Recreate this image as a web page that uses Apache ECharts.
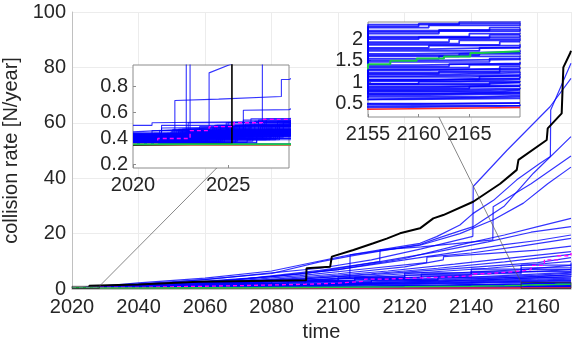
<!DOCTYPE html>
<html>
<head>
<meta charset="utf-8">
<script src="https://cdn.jsdelivr.net/npm/echarts@6/dist/echarts.min.js"></script>
<style>
  html, body { margin: 0; padding: 0; background: #fff; }
  #chart { width: 576px; height: 345px; }
</style>
</head>
<body>
<div id="chart"></div>
<script>
// axis ticks
const mainXTicks = [2020, 2040, 2060, 2080, 2100, 2120, 2140, 2160]
const mainYTicks = [0, 20, 40, 60, 80, 100]
const inset1XTicks = [2020, 2025]
const inset1YTicks = [0.2, 0.4, 0.6, 0.8]
const inset2XTicks = [2155, 2160, 2165]
const inset2YTicks = [0.5, 1, 1.5, 2]

// highlighted curves, [year, rate]
const blackLine = [[2020, 0.35], [2025.2, 0.36], [2025.2, 1.2], [2040, 1.6], [2058, 2.6], [2090.4, 3.2], [2090.5, 7.5],
  [2097.6, 8], [2098.1, 11.7], [2104.6, 14.1], [2110.6, 16.5], [2114.6, 18.2], [2118.6, 20.1], [2124.6, 21.9],
  [2128.6, 25.5], [2131.6, 26.7], [2140.6, 31.5], [2148.7, 38], [2153.7, 43], [2154.2, 46.6], [2162.7, 53.8],
  [2163, 58], [2167.2, 63.4], [2167.7, 80], [2169.7, 85], [2170, 86]]
const magentaLine = [[2020, 0.36], [2021.3, 0.4], [2023, 0.46], [2024, 0.49], [2025.3, 0.52], [2026.8, 0.545],
  [2028.2, 0.56], [2040, 0.8], [2050, 1.0], [2060, 1.2], [2070, 1.45], [2080, 1.7], [2090, 2.1], [2100, 2.8],
  [2108, 3.6], [2115, 4.0], [2125, 4.4], [2133.6, 4.7], [2140, 5.5], [2145, 6], [2150, 6.5], [2155, 7],
  [2158, 8.5], [2162, 10.5], [2166, 12], [2170, 13]]
const greenLine = [[2020, 0.356], [2040, 0.4], [2060, 0.5], [2080, 0.65], [2100, 0.8], [2120, 1.0], [2140, 1.2],
  [2150, 1.32], [2155, 1.42], [2157.2, 1.5], [2159.8, 1.55], [2162.5, 1.6], [2165.1, 1.68], [2166.1, 1.72], [2170, 1.72]]
const redLine = [[2020, 0.35], [2100, 0.37], [2155, 0.41], [2170, 0.41]]

// fastest-growing runs
const upperRuns = [
  [[2020, 0.42], [2022.8, 0.44], [2022.8, 1.1], [2040, 1.9], [2060, 3.4], [2080, 5.8], [2094.5, 7.5], [2110, 10.5],
    [2125, 14.5], [2140.5, 19], [2140.6, 37], [2150.7, 50], [2163.7, 65.8], [2170, 76]],
  [[2020, 0.38], [2023, 0.45], [2023, 1.0], [2040, 2.2], [2060, 3.9], [2080, 6.5], [2094.5, 10.1], [2103.6, 12.3],
    [2112.6, 14.1], [2124.6, 16.5], [2129.6, 18.9], [2136.6, 23.1], [2140.6, 27.3], [2146.7, 32], [2153.7, 39.4],
    [2160.7, 45.4], [2163.8, 47.8], [2163.9, 64.6], [2170, 81.5]],
  [[2020, 0.4], [2024, 0.42], [2024, 0.9], [2050, 2.4], [2080, 5.6], [2094.5, 9.8], [2103.6, 11.9], [2112.6, 13.7],
    [2124.6, 16], [2129.6, 18.2], [2136.6, 21], [2140.6, 22.5], [2150, 30], [2158.7, 41.8], [2170, 55]],
  [[2020, 0.45], [2026.8, 0.5], [2026.8, 1.0], [2060, 2.5], [2090, 5.5], [2112.5, 9.9], [2112.6, 14.1], [2125, 15.2],
    [2136, 16.5], [2146.5, 17.7], [2146.6, 29.7], [2158, 38], [2170, 48]],
  [[2020, 0.4], [2028.2, 0.45], [2060, 1.8], [2090, 3.2], [2103.5, 3.9], [2103.6, 12.3], [2112.6, 13.8],
    [2124.6, 15.8], [2136.6, 20], [2146.7, 25], [2155.7, 31], [2163, 38], [2170, 44]]
]

// middle band runs
const midRuns = [
  [[2020, 0.4], [2022.2, 0.44], [2022.2, 0.69], [2024.5, 0.7], [2027.8, 0.72], [2027.8, 0.85], [2028.2, 0.85], [2050, 2], [2080, 4.5], [2100, 7], [2120, 11], [2136.6, 15.9], [2150, 19.5], [2160, 22.5], [2170, 25.5]],
  [[2020, 0.42], [2025.8, 0.42], [2025.8, 0.615], [2028.2, 0.62], [2040, 1.2], [2070, 3.4], [2094.5, 6.7], [2112.6, 9.9], [2130, 13.5], [2145, 17], [2158, 20.5], [2170, 22.5]],
  [[2020, 0.5], [2021, 0.5], [2021, 0.52], [2028.2, 0.53], [2060, 2.4], [2088.5, 5.5], [2100, 7], [2120, 10.5], [2136.6, 13.5], [2150, 16], [2160, 17.5], [2170, 19.5]],
  [[2020, 0.37], [2023.2, 0.37], [2023.2, 0.45], [2028.2, 0.46], [2040, 1.0], [2060, 2], [2088.5, 4.8], [2110, 7.5], [2126.6, 9.5], [2126.7, 11.5], [2140, 13], [2155, 15.5], [2170, 18.3]],
  [[2020, 0.38], [2024.4, 0.38], [2024.4, 0.5], [2028.2, 0.51], [2050, 1.5], [2080, 3.5], [2100, 5.5], [2120, 8], [2131.6, 10.5], [2131.7, 11.7], [2145, 12.8], [2160, 14], [2170, 15.5]],
  [[2020, 0.4], [2022.6, 0.4], [2022.6, 0.47], [2026.2, 0.48], [2026.2, 0.55], [2028.2, 0.55], [2060, 1.8], [2090, 4], [2115, 6.5], [2135, 9], [2150, 11], [2170, 13.5]],
  [[2020, 0.37], [2021.8, 0.37], [2021.8, 0.44], [2028.2, 0.45], [2055, 1.4], [2085, 3.2], [2110, 5.5], [2130, 7.5], [2150, 9.8], [2170, 12.5]],
  [[2020, 0.41], [2025, 0.41], [2025, 0.49], [2028.2, 0.5], [2050, 1.3], [2088.5, 3.6], [2112, 5.4], [2140, 7.8], [2160, 9.5], [2170, 11.3]],
  [[2020, 0.39], [2023.7, 0.39], [2023.7, 0.43], [2027.1, 0.44], [2027.1, 0.5], [2028.2, 0.5], [2060, 1.5], [2094.5, 3.5], [2120, 5.5], [2145, 7.5], [2170, 10]],
  [[2020, 0.43], [2022.9, 0.43], [2022.9, 0.52], [2028.2, 0.52], [2040, 0.9], [2075, 2.3], [2100, 3.6], [2130, 5.5], [2155, 7], [2170, 8.5]],
  [[2020, 0.36], [2026.5, 0.36], [2026.5, 0.42], [2028.2, 0.42], [2070, 1.7], [2100, 3], [2135, 4.8], [2170, 7]],
  [[2020, 0.44], [2021.5, 0.44], [2021.5, 0.48], [2028.2, 0.49], [2060, 1.3], [2100, 2.7], [2140, 4.3], [2170, 6]],
  [[2020, 0.38], [2024.7, 0.38], [2024.7, 0.41], [2028.2, 0.42], [2080, 1.6], [2120, 2.9], [2150, 4], [2170, 5.2]],
  [[2020, 0.4], [2027.4, 0.4], [2027.4, 0.46], [2028.2, 0.46], [2070, 1.2], [2110, 2.3], [2145, 3.4], [2170, 4.4]],
  [[2020, 0.37], [2023.9, 0.37], [2023.9, 0.4], [2028.2, 0.4], [2090, 1.5], [2130, 2.4], [2160, 3.2], [2170, 3.6]],
  [[2020, 0.42], [2028.2, 0.42], [2080, 1.2], [2130, 2], [2170, 3]]
]

// lower-middle runs, drawn as steps
const stepMidRuns = [
  [[2020, 0.4], [2024.1, 0.44], [2050, 0.7], [2080, 1.2], [2100, 1.6], [2120, 2.0], [2140, 2.3], [2150, 2.45], [2160, 2.55], [2170, 2.7]],
  [[2020, 0.38], [2026.3, 0.46], [2050, 0.8], [2080, 1.4], [2100, 1.9], [2120, 2.4], [2140, 2.8], [2155, 3.0], [2163, 3.2], [2170, 3.4]],
  [[2020, 0.41], [2022.4, 0.47], [2050, 0.9], [2080, 1.6], [2100, 2.2], [2120, 2.8], [2135, 3.2], [2150, 3.6], [2160, 3.9], [2170, 4.1]],
  [[2020, 0.37], [2025.4, 0.45], [2050, 0.95], [2075, 1.6], [2095, 2.3], [2115, 3.0], [2135, 3.6], [2150, 4.1], [2160, 4.5], [2170, 4.8]],
  [[2020, 0.42], [2023.5, 0.49], [2045, 0.9], [2070, 1.6], [2090, 2.3], [2110, 3.1], [2130, 3.9], [2145, 4.5], [2160, 5.1], [2170, 5.5]],
  [[2020, 0.39], [2027.5, 0.5], [2045, 1.0], [2070, 1.8], [2090, 2.6], [2110, 3.4], [2130, 4.3], [2145, 5.0], [2160, 5.7], [2170, 6.2]],
  [[2020, 0.36], [2021.7, 0.43], [2040, 0.9], [2065, 1.8], [2085, 2.6], [2105, 3.6], [2125, 4.6], [2140, 5.5], [2155, 6.3], [2170, 7.0]],
  [[2020, 0.44], [2024.9, 0.52], [2040, 1.0], [2060, 1.8], [2080, 2.7], [2100, 3.8], [2120, 5.0], [2140, 6.0], [2155, 7.0], [2170, 7.8]],
  [[2020, 0.4], [2026.8, 0.5], [2045, 1.2], [2065, 2.1], [2085, 3.0], [2105, 4.2], [2125, 5.4], [2140, 6.4], [2155, 7.6], [2170, 8.8]],
  [[2020, 0.38], [2023.9, 0.46], [2040, 1.1], [2060, 2.0], [2080, 3.0], [2100, 4.4], [2120, 5.8], [2140, 7.2], [2155, 8.6], [2170, 9.6]]
]

// slow runs, drawn as steps
const lowRuns = [
  [[2020, 0.36], [2060, 0.38], [2110, 0.41], [2155, 0.45], [2170, 0.46]],
  [[2020, 0.37], [2026, 0.39], [2080, 0.42], [2130, 0.46], [2170, 0.48]],
  [[2020, 0.38], [2023.4, 0.4], [2070, 0.44], [2120, 0.49], [2160, 0.52], [2170, 0.53]],
  [[2020, 0.37], [2022.7, 0.42], [2070, 0.46], [2120, 0.5], [2155, 0.5], [2163, 0.51], [2170, 0.52]],
  [[2020, 0.4], [2021.2, 0.42], [2050, 0.47], [2100, 0.54], [2140, 0.6], [2158, 0.62], [2170, 0.63]],
  [[2020, 0.4], [2025.1, 0.45], [2060, 0.52], [2110, 0.6], [2155, 0.64], [2166, 0.66], [2170, 0.67]],
  [[2020, 0.37], [2024.8, 0.44], [2060, 0.5], [2110, 0.58], [2150, 0.66], [2166, 0.69], [2170, 0.69]],
  [[2020, 0.41], [2022, 0.45], [2070, 0.53], [2120, 0.64], [2155, 0.7], [2161, 0.73], [2170, 0.74]],
  [[2020, 0.38], [2021.9, 0.43], [2070, 0.56], [2120, 0.66], [2155, 0.72], [2160, 0.75], [2170, 0.76]],
  [[2020, 0.39], [2027, 0.47], [2060, 0.55], [2110, 0.66], [2150, 0.74], [2163, 0.77], [2170, 0.78]],
  [[2020, 0.42], [2021.5, 0.5], [2070, 0.6], [2120, 0.72], [2155, 0.78], [2168, 0.82], [2170, 0.82]],
  [[2020, 0.42], [2026.7, 0.49], [2080, 0.62], [2130, 0.74], [2155, 0.8], [2164, 0.83], [2170, 0.84]],
  [[2020, 0.36], [2023.8, 0.43], [2080, 0.6], [2130, 0.75], [2155, 0.82], [2159, 0.85], [2170, 0.87]],
  [[2020, 0.38], [2025.5, 0.42], [2060, 0.55], [2110, 0.72], [2150, 0.85], [2165, 0.9], [2170, 0.91]],
  [[2020, 0.36], [2023.1, 0.44], [2060, 0.56], [2110, 0.76], [2155, 0.88], [2161, 0.91], [2170, 0.92]],
  [[2020, 0.43], [2022.6, 0.47], [2070, 0.62], [2120, 0.8], [2155, 0.9], [2162, 0.93], [2170, 0.95]],
  [[2020, 0.37], [2026.5, 0.46], [2080, 0.66], [2130, 0.86], [2155, 0.94], [2167, 0.99], [2170, 0.99]],
  [[2020, 0.41], [2024.9, 0.47], [2070, 0.66], [2120, 0.86], [2155, 0.96], [2167, 1.0], [2170, 1.01]],
  [[2020, 0.4], [2024.2, 0.48], [2060, 0.6], [2110, 0.82], [2150, 0.96], [2160, 1.01], [2170, 1.03]],
  [[2020, 0.36], [2021.8, 0.41], [2070, 0.64], [2120, 0.88], [2155, 1.02], [2164, 1.06], [2170, 1.07]],
  [[2020, 0.39], [2027.2, 0.49], [2080, 0.74], [2130, 0.96], [2155, 1.04], [2159, 1.08], [2170, 1.09]],
  [[2020, 0.41], [2027.3, 0.5], [2080, 0.72], [2130, 0.94], [2155, 1.06], [2162, 1.1], [2170, 1.12]],
  [[2020, 0.38], [2023, 0.44], [2060, 0.62], [2110, 0.88], [2150, 1.06], [2166, 1.13], [2170, 1.15]],
  [[2020, 0.37], [2022.3, 0.46], [2060, 0.64], [2110, 0.92], [2155, 1.12], [2165, 1.16], [2170, 1.17]],
  [[2020, 0.44], [2025, 0.52], [2070, 0.7], [2120, 0.96], [2155, 1.14], [2160, 1.17], [2170, 1.2]],
  [[2020, 0.37], [2022.4, 0.45], [2080, 0.78], [2130, 1.02], [2155, 1.18], [2163, 1.22], [2170, 1.24]],
  [[2020, 0.43], [2025.6, 0.5], [2070, 0.76], [2120, 1.0], [2155, 1.2], [2162, 1.25], [2170, 1.26]],
  [[2020, 0.39], [2026.2, 0.5], [2060, 0.66], [2110, 0.98], [2155, 1.23], [2168, 1.29], [2170, 1.3]],
  [[2020, 0.42], [2021, 0.46], [2070, 0.76], [2120, 1.06], [2155, 1.28], [2161, 1.32], [2170, 1.35]],
  [[2020, 0.38], [2021.3, 0.43], [2080, 0.84], [2130, 1.12], [2155, 1.3], [2168, 1.36], [2170, 1.36]],
  [[2020, 0.36], [2024.5, 0.47], [2080, 0.84], [2130, 1.14], [2155, 1.34], [2165, 1.4], [2170, 1.41]],
  [[2020, 0.4], [2026.1, 0.5], [2060, 0.7], [2110, 1.04], [2155, 1.37], [2163, 1.42], [2170, 1.44]],
  [[2020, 0.4], [2027.6, 0.53], [2060, 0.7], [2110, 1.1], [2155, 1.4], [2160, 1.44], [2170, 1.47]],
  [[2020, 0.38], [2023.3, 0.46], [2070, 0.82], [2120, 1.2], [2155, 1.47], [2167, 1.55], [2170, 1.55]],
  [[2020, 0.36], [2023.5, 0.45], [2070, 0.86], [2120, 1.22], [2155, 1.5], [2160, 1.53], [2170, 1.57]],
  [[2020, 0.43], [2025.8, 0.54], [2080, 0.92], [2130, 1.3], [2155, 1.54], [2162, 1.6], [2170, 1.62]],
  [[2020, 0.37], [2022.9, 0.45], [2060, 0.72], [2110, 1.2], [2155, 1.6], [2164, 1.66], [2170, 1.68]],
  [[2020, 0.42], [2024.3, 0.5], [2080, 0.96], [2130, 1.38], [2155, 1.63], [2166, 1.69], [2170, 1.7]],
  [[2020, 0.41], [2026.9, 0.52], [2070, 0.9], [2120, 1.3], [2155, 1.66], [2159, 1.7], [2170, 1.74]],
  [[2020, 0.39], [2021.6, 0.44], [2080, 1.0], [2130, 1.45], [2155, 1.73], [2166, 1.8], [2170, 1.81]],
  [[2020, 0.39], [2027.7, 0.51], [2060, 0.74], [2110, 1.24], [2155, 1.77], [2161, 1.81], [2170, 1.84]],
  [[2020, 0.36], [2024, 0.46], [2060, 0.76], [2110, 1.3], [2155, 1.8], [2161, 1.85], [2170, 1.88]],
  [[2020, 0.44], [2027, 0.55], [2070, 0.98], [2120, 1.45], [2155, 1.87], [2168, 1.94], [2170, 1.95]],
  [[2020, 0.37], [2022.5, 0.45], [2070, 0.94], [2120, 1.5], [2155, 1.9], [2164, 1.97], [2170, 1.99]],
  [[2020, 0.38], [2022.1, 0.47], [2080, 1.08], [2130, 1.6], [2155, 1.93], [2163, 2.0], [2170, 2.02]],
  [[2020, 0.4], [2025.3, 0.5], [2060, 0.82], [2110, 1.45], [2155, 2.0], [2160, 2.05], [2170, 2.09]],
  [[2020, 0.41], [2025.9, 0.51], [2080, 1.12], [2130, 1.66], [2155, 2.03], [2167, 2.1], [2170, 2.11]],
  [[2020, 0.37], [2023.6, 0.45], [2070, 1.04], [2120, 1.6], [2155, 2.06], [2165, 2.13], [2170, 2.15]],
  [[2020, 0.42], [2026.4, 0.53], [2080, 1.16], [2130, 1.75], [2155, 2.13], [2162, 2.19], [2170, 2.22]],
  [[2020, 0.38], [2021.1, 0.44], [2060, 0.84], [2110, 1.5], [2155, 2.17], [2162, 2.22], [2170, 2.25]],
  [[2020, 0.39], [2021.4, 0.46], [2060, 0.86], [2110, 1.55], [2155, 2.2], [2167, 2.27], [2170, 2.28]],
  [[2020, 0.36], [2024.6, 0.48], [2070, 1.1], [2120, 1.75], [2155, 2.27], [2161, 2.32], [2170, 2.35]],
  [[2020, 0.43], [2026.6, 0.54], [2070, 1.12], [2120, 1.8], [2155, 2.3], [2160, 2.36], [2170, 2.38]],
  [[2020, 0.41], [2027.9, 0.52], [2080, 1.2], [2130, 1.85], [2155, 2.34], [2164, 2.4], [2170, 2.43]]
]

// zoom windows [xmin, xmax, ymin, ymax]
const inset1Range = [2020, 2028.2, 0.175, 0.96]
const inset2Range = [2155, 2170, 0.19, 2.4]

const FONT = '"Liberation Sans", Arial, Helvetica, sans-serif'
const TXT = '#262626'
const BLUE = 'rgba(0,0,255,0.8)'

let chart = echarts.init(document.getElementById('chart'), null, { renderer: 'canvas' })

function fmt (v) {
  return String(v)
}

let labelStyle = { color: TXT, fontSize: 20, fontFamily: FONT }

let grids = [
  { left: 72, top: 12, width: 499, height: 277, outerBoundsMode: 'none', containLabel: false },
  { left: 133, top: 65, width: 156, height: 103, show: true, backgroundColor: '#fff', borderColor: '#8c8c8c', borderWidth: 1, z: 1, outerBoundsMode: 'none', containLabel: false },
  { left: 368, top: 22, width: 152, height: 95, show: true, backgroundColor: '#fff', borderColor: '#8c8c8c', borderWidth: 1, z: 1, outerBoundsMode: 'none', containLabel: false }
]

function insetX (g, range, ticks) {
  return {
    type: 'value', gridIndex: g, min: range[0], max: range[1], z: 2,
    axisLine: { show: false },
    axisTick: { show: true, inside: true, length: 3, lineStyle: { color: '#8c8c8c' }, customValues: ticks },
    axisLabel: Object.assign({ margin: 7, formatter: fmt, customValues: ticks }, labelStyle),
    splitLine: { show: false }
  }
}
function insetY (g, range, ticks) {
  return {
    type: 'value', gridIndex: g, min: range[2], max: range[3], z: 2,
    axisLine: { show: false },
    axisTick: { show: true, inside: true, length: 3, lineStyle: { color: '#8c8c8c' }, customValues: ticks },
    axisLabel: Object.assign({ margin: 5, formatter: fmt, customValues: ticks }, labelStyle),
    splitLine: { show: false }
  }
}

let xAxes = [
  {
    type: 'value', gridIndex: 0, min: mainXTicks[0], max: 2170, interval: 20,
    name: 'time', nameLocation: 'middle', nameGap: 33,
    nameTextStyle: { color: TXT, fontSize: 20, fontFamily: FONT },
    axisLine: { show: true, onZero: false, lineStyle: { color: '#c0c0c0' } },
    axisTick: { show: false },
    axisLabel: Object.assign({ margin: 8, formatter: fmt }, labelStyle),
    splitLine: { show: true, lineStyle: { color: '#ececec' } }
  },
  insetX(1, inset1Range, inset1XTicks),
  insetX(2, inset2Range, inset2XTicks)
]
let yAxes = [
  {
    type: 'value', gridIndex: 0, min: mainYTicks[0], max: mainYTicks[mainYTicks.length - 1], interval: 20,
    name: 'collision rate [N/year]', nameLocation: 'middle', nameGap: 36,
    nameTextStyle: { color: TXT, fontSize: 20, fontFamily: FONT },
    axisLine: { show: true, lineStyle: { color: '#c0c0c0' } },
    axisTick: { show: false },
    axisLabel: Object.assign({ margin: 6, formatter: fmt }, labelStyle),
    splitLine: { show: true, lineStyle: { color: '#ececec' } }
  },
  insetY(1, inset1Range, inset1YTicks),
  insetY(2, inset2Range, inset2YTicks)
]

let series = []
// every run goes into the main plot and both zoom insets
function addRun (pts, color, widths, step, dash) {
  for (let g = 0; g < 3; g++) {
    series.push({
      type: 'line', xAxisIndex: g, yAxisIndex: g, data: pts,
      step: step || false, symbol: 'none', showSymbol: false, silent: true,
      animation: false, clip: true, z: g ? 3 : 2,
      lineStyle: { color: color, width: widths[g], type: dash || 'solid' }
    })
  }
}

let blueW = [1.2, 1.1, 1.7]
lowRuns.forEach(r => addRun(r, BLUE, blueW, 'end'))
stepMidRuns.forEach(r => addRun(r, BLUE, blueW, 'end'))
midRuns.forEach(r => addRun(r, BLUE, blueW))
upperRuns.forEach(r => addRun(r, BLUE, blueW))
addRun(redLine, '#ff2a2a', [1.3, 1.4, 1.6], 'end')
addRun(blackLine, '#000', [2, 1.6, 2])
addRun(magentaLine, '#ff00ff', [1.3, 1.3, 1.3], 'end', [4, 3])
addRun(greenLine, '#19c84a', [1.6, 1.8, 2], 'end')

chart.setOption({
  animation: false,
  backgroundColor: '#fff',
  grid: grids,
  xAxis: xAxes,
  yAxis: yAxes,
  series: series
})

// zoom boxes and leader lines, placed from the axes' own scales
let px = (g, pt) => chart.convertToPixel({ gridIndex: g }, pt)
let r1a = px(0, [inset1Range[0], inset1Range[3]])
let r1b = px(0, [inset1Range[1], inset1Range[2]])
let r2a = px(0, [inset2Range[0], inset2Range[3]])
let r2b = px(0, [inset2Range[1], inset2Range[2]])
let lead1a = px(0, [inset1Range[1], inset1Range[3]])
let lead1b = px(1, [2024.4, inset1Range[2]])
let lead2a = px(0, [inset2Range[0], inset2Range[3]])
let lead2b = px(2, [2162, inset2Range[2]])

chart.setOption({
  graphic: [
    { type: 'rect', z: 100, silent: true, shape: { x: r1a[0], y: r1a[1], width: r1b[0] - r1a[0], height: r1b[1] - r1a[1] }, style: { fill: null, stroke: '#333', lineWidth: 0.8 } },
    { type: 'rect', z: 100, silent: true, shape: { x: r2a[0], y: r2a[1], width: r2b[0] - r2a[0], height: r2b[1] - r2a[1] }, style: { fill: null, stroke: '#333', lineWidth: 0.8 } },
    { type: 'line', z: 100, silent: true, shape: { x1: lead1a[0], y1: lead1a[1], x2: lead1b[0], y2: lead1b[1] }, style: { stroke: '#555', lineWidth: 0.7 } },
    { type: 'line', z: 100, silent: true, shape: { x1: lead2a[0], y1: lead2a[1], x2: lead2b[0], y2: lead2b[1] }, style: { stroke: '#555', lineWidth: 0.7 } }
  ]
})
</script>
</body>
</html>
